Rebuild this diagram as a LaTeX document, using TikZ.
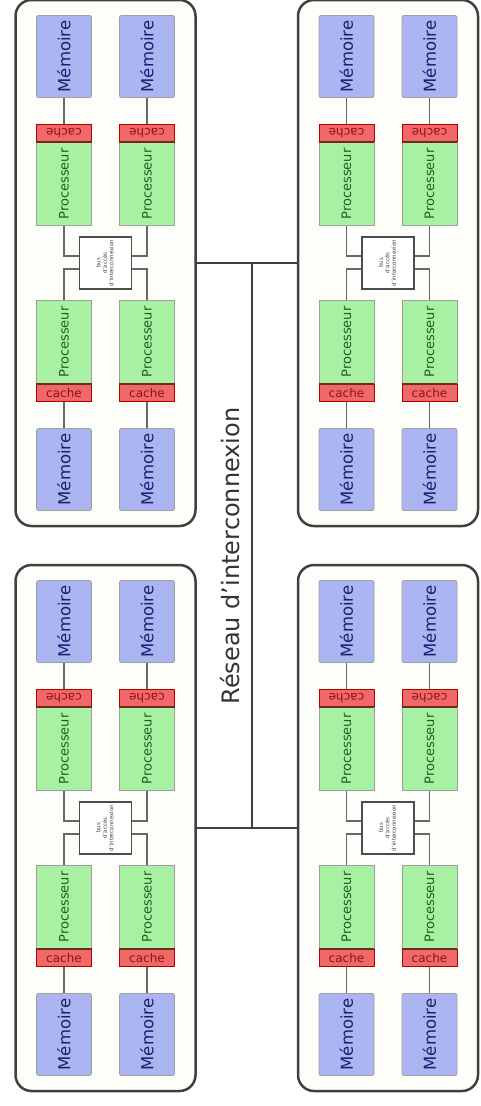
\documentclass[tikz,border=0pt]{standalone}
\usepackage{fontspec}
\setmainfont{DejaVu Sans}
\usepackage{tikz}
\usetikzlibrary{positioning}
\definecolor{memfill}{HTML}{AAB5F2}
\definecolor{memtext}{HTML}{1C1F6E}
\definecolor{procfill}{HTML}{A8F0A2}
\definecolor{proctext}{HTML}{1F5E1F}
\definecolor{cachefill}{HTML}{F06868}
\definecolor{cachetext}{HTML}{8A1414}
\definecolor{cacheedge}{HTML}{6E2A1E}
\definecolor{modfill}{HTML}{FDFDF9}

\begin{document}
\begin{tikzpicture}[x=1pt, y=-1pt,
modulenode/.style={rectangle, rounded corners=16pt, draw=black!75, fill=modfill, line width=2.5pt, minimum width=180pt, minimum height=526pt},
memorynode/.style={rectangle, rounded corners=2pt, draw=gray!75, fill=memfill, line width=0.8pt, minimum width=55pt, minimum height=82pt, inner sep=0pt, text=memtext, font=\fontsize{16.5}{18}\selectfont},
processornode/.style={rectangle, draw=gray!75, fill=procfill, line width=0.8pt, minimum width=55pt, minimum height=83pt, inner sep=0pt, text=proctext, font=\fontsize{13}{14}\selectfont},
cachenode/.style={rectangle, draw=red!70!black, fill=cachefill, line width=0.8pt, minimum width=55pt, minimum height=17pt, inner sep=0pt, text=cachetext, font=\fontsize{12}{13}\selectfont},
switchnode/.style={rectangle, draw=black!70, fill=white, line width=1.2pt, minimum size=52pt, inner sep=0pt, text=black!75, font=\fontsize{5.5}{6.5}\selectfont},
link/.style={draw=black!60, line width=1.2pt},
bus/.style={draw=black!75, line width=1.4pt},
]
\useasboundingbox (0,0) rectangle (480,1106);

%Modules
\foreach \m/\cx/\cy in {tl/105.5/263, bl/105.5/828, tr/388/263, br/388/828}{
  \node[modulenode] (\m) at (\cx,\cy) {};
  \node[switchnode] (\m-sw) at (\cx,\cy)
    {\rotatebox{90}{\begin{tabular}{@{}c@{}}bus\\d'accès\\d'interconnexion\end{tabular}}};
  \foreach \c/\dx/\side in {a/-41.5/west, b/41.5/east}{
    % upper half
    \node[processornode] (\m-\c-pu) at ({\cx+\dx},{\cy-79}) {\rotatebox{90}{Processeur}};
    \node[cachenode]     (\m-\c-cu) [above=0pt of \m-\c-pu] {\rotatebox{180}{cache}};
    \node[memorynode]    (\m-\c-mu) at ({\cx+\dx},{\cy-206.5}) {\rotatebox{90}{Mémoire}};
    % lower half
    \node[processornode] (\m-\c-pd) at ({\cx+\dx},{\cy+79}) {\rotatebox{90}{Processeur}};
    \node[cachenode]     (\m-\c-cd) [below=0pt of \m-\c-pd] {cache};
    \node[memorynode]    (\m-\c-md) at ({\cx+\dx},{\cy+206.5}) {\rotatebox{90}{Mémoire}};
    % cache / processor boundary
    \draw[cacheedge, line width=1.6pt] (\m-\c-cu.south west) -- (\m-\c-cu.south east);
    \draw[cacheedge, line width=1.6pt] (\m-\c-cd.north west) -- (\m-\c-cd.north east);
    %Lines
    \draw[link] (\m-\c-mu) -- (\m-\c-cu);
    \draw[link] (\m-\c-md) -- (\m-\c-cd);
    \draw[link] (\m-\c-pu.south) |- ([yshift=7pt]\m-sw.\side);
    \draw[link] (\m-\c-pd.north) |- ([yshift=-6pt]\m-sw.\side);
  }
}

%Interconnect
\coordinate (hubtop) at (252,263);
\coordinate (hubbot) at (252,828);
\draw[bus] (tl.east) -- (tr.west);
\draw[bus] (bl.east) -- (br.west);
\draw[bus] (hubtop) -- (hubbot);
\node[rotate=90, text=black!80, font=\fontsize{24}{26}\selectfont] (netlabel) at (230,556) {Réseau d'interconnexion};
\end{tikzpicture}
\end{document}
